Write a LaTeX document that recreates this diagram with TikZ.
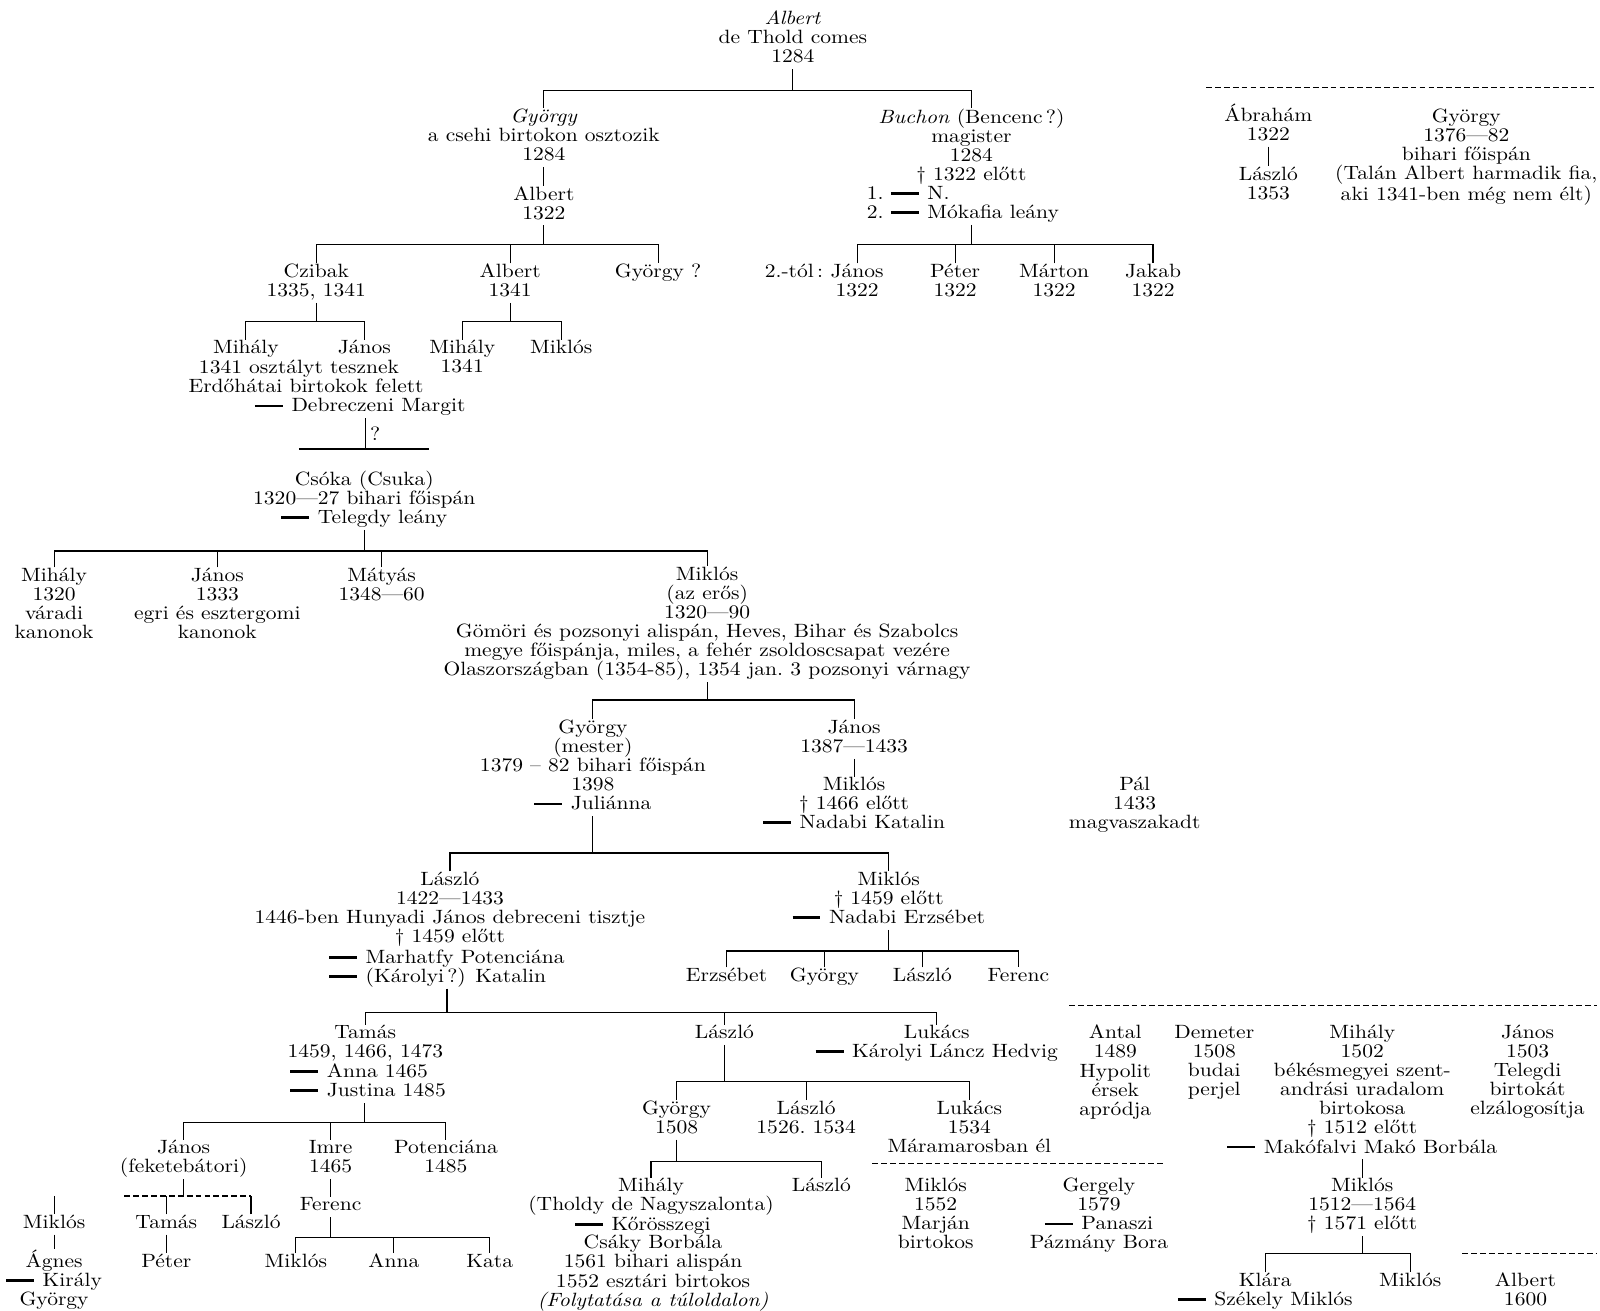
\documentclass[tikz,border=0pt]{standalone}
\usepackage{fontspec}
\setmainfont{lmroman10}[Extension=.otf, UprightFont=*-regular, ItalicFont=*-italic, BoldFont=*-bold, FakeStretch=1.12]
\newcommand{\betu}{\fontsize{13.4}{13.3}\selectfont}
\newcommand{\hz}{\rule[0.24em]{1.45em}{0.14em}\hspace{0.45em}}
\tikzset{
  pers/.style={anchor=north, yshift=0.175cm, inner sep=0pt, align=center, font=\betu,
    execute at begin node=\strut, execute at end node=\strut},
  feleseg/.style={pers, anchor=north west, align=left},
  szagg/.style={dash pattern=on 4pt off 2.2pt}
}
\begin{document}
\begin{tikzpicture}[x=0.025cm, y=-0.025cm, line width=0.8pt]

    \useasboundingbox (0,0) rectangle (1568,1284);

    % Albert de Thold
    \node[pers] (albert) at (777,17) {\textit{Albert}\\de Thold comes\\1284};
    \node[pers] (gyorgy) at (533,113) {\textit{György}\\a csehi birtokon osztozik\\1284};
    \node[pers] (albert2) at (533,189) {Albert\\1322};
    \node[pers] (buchon) at (952,113) {\textit{Buchon} (Bencenc\,?)\\magister\\1284\\† 1322 előtt};
    \node[feleseg] (buchonw) at (849,189) {1.\ \hz N.\\2.\ \hz Mókafia leány};
    \coordinate (j1) at (777,89);
    \draw (albert.south) -- (j1);
    \draw (gyorgy.north) |- (j1) -| (buchon.north);
    \draw (gyorgy.south) -- (albert2.north);

    % Buchon fiai
    \node[pers] (tol) at (778,265) {2.-tól\,:};
    \node[pers] (janos1) at (840,265) {János\\1322};
    \node[pers] (peter) at (936,265) {Péter\\1322};
    \node[pers] (marton) at (1033,265) {Márton\\1322};
    \node[pers] (jakab) at (1130,265) {Jakab\\1322};
    \coordinate (j3) at (952,240);
    \draw (j3 |- buchonw.south) -- (j3);
    \draw (janos1.north) |- (j3) -| (jakab.north);
    \draw (peter.north) -- (peter.north |- j3);
    \draw (marton.north) -- (marton.north |- j3);

    % Abraham, Gyorgy (jobb felso)
    \draw[szagg] (1182,86) -- (1565,86);
    \node[pers] (abraham) at (1243,108) {Ábrahám\\1322};
    \node[pers] (laszlo1) at (1243,170) {László\\1353};
    \draw (abraham.south) -- (laszlo1.north);
    \node[pers] (gyorgy2) at (1437,113) {György\\1376—82\\bihari főispán\\(Talán Albert harmadik fia,\\aki 1341-ben még nem élt)};

    % Albert 1322 fiai
    \node[pers] (czibak) at (310,265) {Czibak\\1335, 1341};
    \node[pers] (albert3) at (500,265) {Albert\\1341};
    \node[pers] (gyorgy3) at (645,265) {György ?};
    \coordinate (j2) at (533,240);
    \draw (albert2.south) -- (j2);
    \draw (czibak.north) |- (j2) -| (gyorgy3.north);
    \draw (albert3.north) -- (albert3.north |- j2);

    % Czibak fiai
    \node[pers] (mihaly1) at (241,340) {Mihály};
    \node[pers] (janos2) at (357,340) {János};
    \node[pers] (osztaly) at (293,359) {1341 osztályt tesznek};
    \node[pers] (erdo) at (300,378) {Erdőhátai birtokok felett};
    \node[pers] (margit) at (353,397) {\hz Debreczeni Margit};
    \coordinate (j4) at (310,315);
    \draw (czibak.south) -- (j4);
    \draw (mihaly1.north) |- (j4) -| (janos2.north);
    \coordinate (j6) at (358,440);
    \coordinate (j6a) at (293,440);
    \coordinate (j6b) at (420,440);
    \draw (margit.south -| j6) -- (j6) node[midway, right=3pt, inner sep=0pt, font=\betu] (kerdes) {?};
    \draw (j6a) -- (j6b);

    % Albert 1341 fiai
    \node[pers] (mihaly2) at (453,340) {Mihály\\1341};
    \node[pers] (miklos1) at (550,340) {Miklós};
    \coordinate (j5) at (500,315);
    \draw (albert3.south) -- (j5);
    \draw (mihaly2.north) |- (j5) -| (miklos1.north);

    % Csoka
    \node[pers] (csoka) at (357,468) {Csóka (Csuka)\\1320—27 bihari főispán\\\hz Telegdy leány};
    \node[pers] (mihaly3) at (53,563) {Mihály\\1320\\váradi\\kanonok};
    \node[pers] (janos3) at (213,563) {János\\1333\\egri és esztergomi\\kanonok};
    \node[pers] (matyas) at (374,563) {Mátyás\\1348—60};
    \node[pers] (miklos2) at (693,562) {Miklós\\(az erős)\\1320—90\\Gömöri és pozsonyi alispán, Heves, Bihar és Szabolcs\\megye főispánja, miles, a fehér zsoldoscsapat vezére\\Olaszországban (1354-85), 1354 jan.~3 pozsonyi várnagy};
    \coordinate (j7) at (357,540);
    \draw (csoka.south) -- (j7);
    \draw (mihaly3.north) |- (j7) -| (miklos2.north);
    \draw (janos3.north) -- (janos3.north |- j7);
    \draw (matyas.north) -- (matyas.north |- j7);

    % Miklos (az eros) fiai
    \node[pers] (gyorgy4) at (581,712) {György\\(mester)\\1379 -- 82 bihari főispán\\1398\\\hz Juliánna};
    \node[pers] (janos4) at (837,712) {János\\1387—1433};
    \node[pers] (miklos3) at (837,768) {Miklós\\† 1466 előtt\\\hz Nadabi Katalin};
    \node[pers] (pal) at (1112,768) {Pál\\1433\\magvaszakadt};
    \coordinate (j8) at (693,686);
    \draw (miklos2.south) -- (j8);
    \draw (gyorgy4.north) |- (j8) -| (janos4.north);
    \draw (janos4.south) -- (miklos3.north);

    % Gyorgy (mester) fiai
    \node[pers] (laszlo2) at (441,861) {László\\1422—1433\\1446-ben Hunyadi János debreceni tisztje\\† 1459 előtt};
    \node[feleseg] (laszlo2w) at (322,937) {\hz Marhatfy Potenciána\\\hz (Károlyi\,?) Katalin};
    \node[pers] (miklos4) at (871,861) {Miklós\\† 1459 előtt\\\hz Nadabi Erzsébet};
    \coordinate (j9) at (581,836);
    \draw (gyorgy4.south) -- (j9);
    \draw (laszlo2.north) |- (j9) -| (miklos4.north);

    % Miklos (+1459) gyermekei
    \node[pers] (erzsebet) at (712,955) {Erzsébet};
    \node[pers] (gyorgy5) at (808,955) {György};
    \node[pers] (laszlo3) at (904,955) {László};
    \node[pers] (ferenc1) at (998,955) {Ferenc};
    \coordinate (j10) at (871,932);
    \draw (miklos4.south) -- (j10);
    \draw (erzsebet.north) |- (j10) -| (ferenc1.north);
    \draw (gyorgy5.north) -- (gyorgy5.north |- j10);
    \draw (laszlo3.north) -- (laszlo3.north |- j10);

    % Laszlo (1422-1433) fiai
    \node[pers] (tamas) at (358,1011) {Tamás\\1459, 1466, 1473};
    \node[feleseg] (tamasw) at (284,1049) {\hz Anna 1465\\\hz Justina 1485};
    \node[pers] (laszlo4) at (710,1011) {László};
    \node[pers] (lukacs1) at (918,1011) {Lukács\\\hz Károlyi Láncz Hedvig};
    \coordinate (j11) at (438,992);
    \draw (j11 |- laszlo2w.south) -- (j11);
    \draw (tamas.north) |- (j11) -| (lukacs1.north);
    \draw (laszlo4.north) -- (laszlo4.north |- j11);

    % Tamas gyermekei
    \node[pers] (janos5) at (180,1124) {János\\(feketebátori)};
    \node[pers] (imre) at (324,1124) {Imre\\1465};
    \node[pers] (potenciana) at (437,1124) {Potenciána\\1485};
    \coordinate (j12) at (357,1100);
    \draw (j12 |- tamasw.south) -- (j12);
    \draw (janos5.north) |- (j12) -| (potenciana.north);
    \draw (imre.north) -- (imre.north |- j12);

    % Janos (feketebatori) es Miklos
    \node[pers] (miklos5) at (53,1197) {Miklós};
    \node[pers] (agnes) at (53,1231) {Ágnes\\\hz Király\\György};
    \coordinate (m5top) at (53,1172);
    \draw (m5top) -- (miklos5.north);
    \draw (miklos5.south) -- (agnes.north);
    \node[pers] (tamas2) at (163,1197) {Tamás};
    \node[pers] (laszlo5) at (246,1197) {László};
    \node[pers] (peter2) at (163,1235) {Péter};
    \coordinate (j13) at (180,1172);
    \coordinate (j13a) at (122,1172);
    \coordinate (j13b) at (246,1172);
    \draw (janos5.south) -- (j13);
    \draw[szagg] (j13a) -- (j13b);
    \draw (tamas2.north) -- (tamas2.north |- j13);
    \draw (laszlo5.north) -- (laszlo5.north |- j13);
    \draw (tamas2.south) -- (peter2.north);

    % Imre, Ferenc
    \node[pers] (ferenc2) at (324,1180) {Ferenc};
    \node[pers] (miklos6) at (290,1235) {Miklós};
    \node[pers] (anna) at (386,1235) {Anna};
    \node[pers] (kata) at (480,1235) {Kata};
    \draw (imre.south) -- (ferenc2.north);
    \coordinate (j14) at (324,1213);
    \draw (ferenc2.south) -- (j14);
    \draw (miklos6.north) |- (j14) -| (kata.north);
    \draw (anna.north) -- (anna.north |- j14);

    % Laszlo fiai
    \node[pers] (gyorgy6) at (663,1085) {György\\1508};
    \node[pers] (laszlo6) at (790,1085) {László\\1526.~1534};
    \node[pers] (lukacs2) at (950,1085) {Lukács\\1534\\Máramarosban él};
    \coordinate (j15) at (710,1060);
    \draw (laszlo4.south) -- (j15);
    \draw (gyorgy6.north) |- (j15) -| (lukacs2.north);
    \draw (laszlo6.north) -- (laszlo6.north |- j15);

    % Gyorgy 1508 fiai
    \node[pers] (mihaly4) at (638,1161) {Mihály\\(Tholdy de Nagyszalonta)};
    \node[feleseg] (mihaly4w) at (563,1199) {\hz Kőrösszegi};
    \node[pers] (mihaly4b) at (640,1217) {Csáky Borbála\\1561 bihari alispán\\1552 esztári birtokos\\\textit{(Folytatása a túloldalon)}};
    \node[pers] (laszlo7) at (805,1161) {László};
    \coordinate (j16) at (663,1138);
    \draw (gyorgy6.south) -- (j16);
    \draw (mihaly4.north) |- (j16) -| (laszlo7.north);

    % Miklos, Gergely
    \draw[szagg] (855,1140) -- (1142,1140);
    \node[pers] (miklos7) at (917,1161) {Miklós\\1552\\Marján\\birtokos};
    \node[pers] (gergely) at (1077,1161) {Gergely\\1579\\\hz Panaszi\\Pázmány Bora};

    % Jobb also csoport
    \draw[szagg] (1048,985) -- (1565,985);
    \node[pers] (antal) at (1093,1011) {Antal\\1489\\Hypolit\\érsek\\apródja};
    \node[pers] (demeter) at (1190,1011) {Demeter\\1508\\budai\\perjel};
    \node[pers] (mihaly5) at (1335,1011) {Mihály\\1502\\békésmegyei szent-\\andrási uradalom\\birtokosa\\† 1512 előtt\\\hz Makófalvi Makó Borbála};
    \node[pers] (janos6) at (1497,1011) {János\\1503\\Telegdi\\birtokát\\elzálogosítja};
    \node[pers] (miklos8) at (1335,1161) {Miklós\\1512—1564\\† 1571 előtt};
    \draw (mihaly5.south) -- (miklos8.north);
    \node[pers] (klara) at (1240,1254) {Klára\\\hz Székely Miklós};
    \node[pers] (miklos9) at (1382,1254) {Miklós};
    \coordinate (j17) at (1335,1228);
    \draw (miklos8.south) -- (j17);
    \draw (klara.north) |- (j17) -| (miklos9.north);
    \draw[szagg] (1433,1228) -- (1565,1228);
    \node[pers] (albert4) at (1495,1254) {Albert\\1600};

\end{tikzpicture}
\end{document}
